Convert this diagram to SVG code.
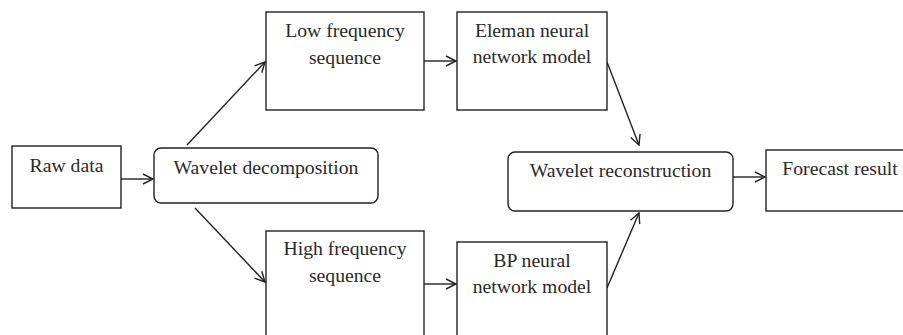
<svg xmlns="http://www.w3.org/2000/svg" width="903" height="335" viewBox="0 0 903 335">
  <defs>
    <marker id="arrow" viewBox="0 0 12 12" refX="11" refY="6" markerWidth="12" markerHeight="12" markerUnits="userSpaceOnUse" orient="auto">
      <path d="M1,1 L11,6 L1,11" fill="none" stroke="#222" stroke-width="1.4"/>
    </marker>
  </defs>
  <style>
    .box { fill: #fff; stroke: #222; stroke-width: 1.4; }
    .lbl { font-family: "Liberation Serif", "Times New Roman", serif; font-size: 19.7px; fill: #2a2a2a; text-anchor: middle; }
    .edge { fill: none; stroke: #222; stroke-width: 1.4; marker-end: url(#arrow); }
  </style>
  <rect width="903" height="335" fill="#fff"/>

  <g id="connectors">
    <line class="edge" x1="121" y1="179" x2="153" y2="179"/>
    <line class="edge" x1="187" y1="145" x2="265" y2="62"/>
    <line class="edge" x1="195" y1="208" x2="265" y2="282"/>
    <line class="edge" x1="424" y1="61" x2="456" y2="61"/>
    <line class="edge" x1="424" y1="284" x2="456" y2="284"/>
    <line class="edge" x1="607" y1="62" x2="639" y2="145"/>
    <line class="edge" x1="607" y1="288" x2="639" y2="213"/>
    <line class="edge" x1="733" y1="177" x2="765" y2="177"/>
  </g>

  <g id="raw-data">
    <rect class="box" x="12" y="146" width="109" height="62"/>
    <text class="lbl" x="66.5" y="172">Raw data</text>
  </g>

  <g id="wavelet-decomposition">
    <rect class="box" x="154" y="148" width="224" height="55" rx="7" ry="7"/>
    <text class="lbl" x="266" y="174">Wavelet decomposition</text>
  </g>

  <g id="low-frequency">
    <rect class="box" x="266" y="12" width="158" height="98"/>
    <text class="lbl" x="345" y="37">Low frequency</text>
    <text class="lbl" x="345" y="64">sequence</text>
  </g>

  <g id="high-frequency">
    <rect class="box" x="266" y="231" width="158" height="110"/>
    <text class="lbl" x="345" y="255">High frequency</text>
    <text class="lbl" x="345" y="282">sequence</text>
  </g>

  <g id="eleman-model">
    <rect class="box" x="457" y="12" width="150" height="98"/>
    <text class="lbl" x="532" y="37">Eleman neural</text>
    <text class="lbl" x="532" y="63">network model</text>
  </g>

  <g id="bp-model">
    <rect class="box" x="457" y="242" width="150" height="100"/>
    <text class="lbl" x="532" y="267">BP neural</text>
    <text class="lbl" x="532" y="293">network model</text>
  </g>

  <g id="wavelet-reconstruction">
    <rect class="box" x="508" y="152" width="225" height="59" rx="7" ry="7"/>
    <text class="lbl" x="620.5" y="177">Wavelet reconstruction</text>
  </g>

  <g id="forecast-result">
    <rect class="box" x="766" y="150" width="150" height="61"/>
    <text class="lbl" x="840" y="175">Forecast result</text>
  </g>
</svg>
